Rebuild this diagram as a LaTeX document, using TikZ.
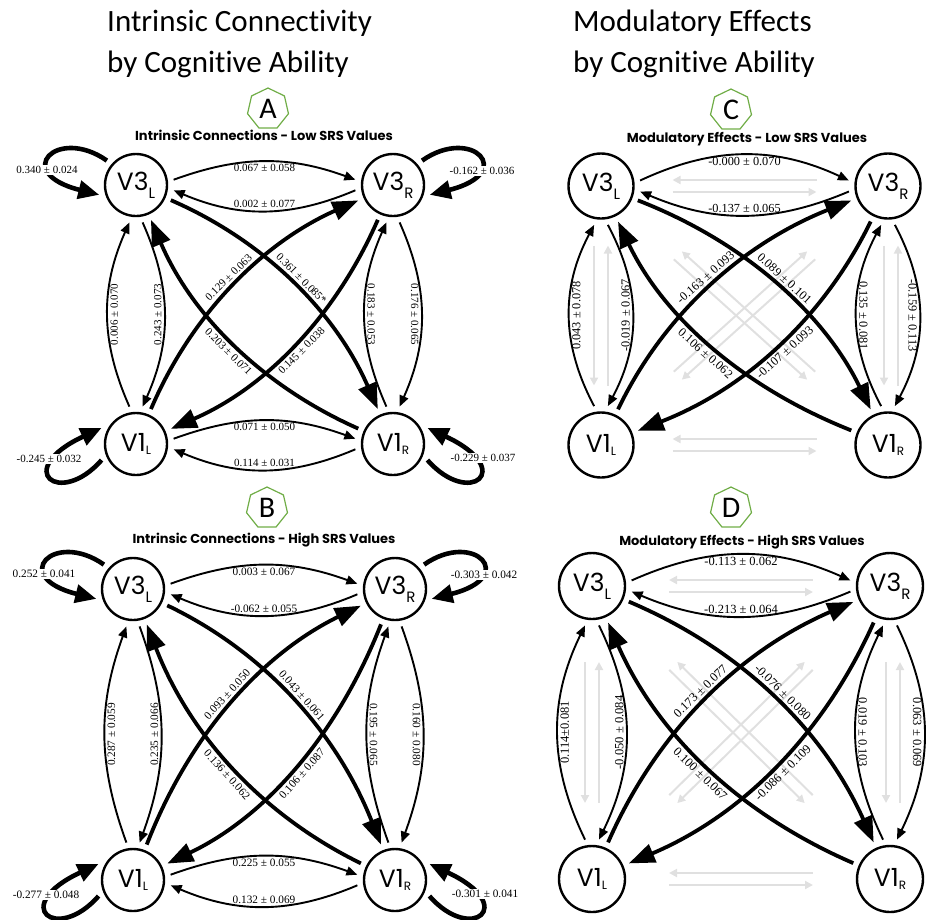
\documentclass[tikz,border=0pt]{standalone}
\usepackage{fontspec}
\setmainfont{Liberation Serif}
\newfontfamily\hdfont[Ligatures=NoCommon]{Carlito}
\newfontfamily\geofont{Poppins}
\usetikzlibrary{arrows.meta,shapes.geometric}
\definecolor{badgegreen}{HTML}{70AD47}
\definecolor{ghost}{HTML}{E0E0E0}
\newcommand\sbx[3]{\raisebox{#2}{\fontsize{#1}{#1}\selectfont #3}}
\tikzset{
 region/.style={circle, draw, line width=2.4pt, minimum size=#1, inner sep=0pt, outer sep=7pt, font=\geofont\fontsize{25}{25}\selectfont},
 region/.default=62pt,
 elab/.style={font=\fontsize{\LF}{\LF}\selectfont, inner sep=2pt},
 dlab/.style={font=\fontsize{\LF}{\LF}\selectfont, inner sep=3.5pt},
 looplab/.style={font=\fontsize{\LF}{\LF}\selectfont, fill=white, inner sep=1pt},
 thinarc/.style={line width=1.9pt, -{Triangle[length=11pt,width=9pt]}},
 diagarc/.style={line width=3.8pt, -{Triangle[length=26pt,width=19pt]}},
 selfloop/.style={line width=4.6pt, -{Triangle[length=21pt,width=18pt]}},
 grayarr/.style={line width=2pt, draw=ghost, -{Triangle[length=8pt,width=8pt]}},
 badge/.style={regular polygon, regular polygon sides=7, draw=badgegreen, line width=1.2pt, minimum size=42pt, inner sep=0pt, font=\hdfont\fontsize{30}{30}\selectfont},
 ptitle/.style={font=\geofont\bfseries\fontsize{13}{13}\selectfont, inner sep=0pt},
 header/.style={font=\hdfont\fontsize{31}{41}\selectfont, align=left, anchor=north west, inner sep=0pt}
}
\newcommand\netnodes[1]{%
 \node[region=\RS] (#1-V3L) at (\PX,\PY) {V3\sbx{15}{-8pt}{L}};
 \node[region=\RS] (#1-V3R) at ({\PX+\PW},\PY) {V3\sbx{15}{-8pt}{R}};
 \node[region=\RS] (#1-V1L) at (\PX,{\PY+\PH}) {V1\sbx{12}{-3pt}{L}};
 \node[region=\RS] (#1-V1R) at ({\PX+\PW},{\PY+\PH}) {V1\sbx{12}{-3pt}{R}};
}
\newcommand\netarcs[1]{%
 \draw[thinarc] (#1-V3L.8) to[bend left=\hbt] node[elab,anchor=north]{\lTop} (#1-V3R.172);
 \draw[thinarc] (#1-V3R.-172) to[bend left=\hbb] node[elab,anchor=south]{\lBot} (#1-V3L.-8);
 \draw[thinarc] (#1-V1L.100) to[bend left=\vb] node[elab,rotate=90,anchor=north]{\lLo} (#1-V3L.-100);
 \draw[thinarc] (#1-V3L.-80) to[bend left=\vb] node[elab,rotate=90,anchor=south]{\lLi} (#1-V1L.80);
 \draw[thinarc] (#1-V1R.100) to[bend left=\vb] node[elab,rotate=-90,anchor=south]{\lRi} (#1-V3R.-100);
 \draw[thinarc] (#1-V3R.-80) to[bend left=\vb] node[elab,rotate=-90,anchor=north]{\lRo} (#1-V1R.80);
 \coordinate (#1-a1) at ({\PX+0.51*\PW},{\PY+0.22*\PH});
 \coordinate (#1-a2) at ({\PX+0.78*\PW},{\PY+0.50*\PH});
 \coordinate (#1-b1) at ({\PX+0.50*\PW},{\PY+0.78*\PH});
 \coordinate (#1-b2) at ({\PX+0.22*\PW},{\PY+0.51*\PH});
 \coordinate (#1-c1) at ({\PX+0.22*\PW},{\PY+0.49*\PH});
 \coordinate (#1-c2) at ({\PX+0.50*\PW},{\PY+0.22*\PH});
 \coordinate (#1-d1) at ({\PX+0.78*\PW},{\PY+0.50*\PH});
 \coordinate (#1-d2) at ({\PX+0.51*\PW},{\PY+0.78*\PH});
 \draw[diagarc] (#1-V3L) .. controls (#1-a1) and (#1-a2) .. (#1-V1R) node[dlab,pos=0.5,sloped,anchor=south]{\lDb};
 \draw[diagarc] (#1-V1R) .. controls (#1-b1) and (#1-b2) .. (#1-V3L) node[dlab,pos=0.5,sloped,anchor=north]{\lDc};
 \draw[diagarc] (#1-V1L) .. controls (#1-c1) and (#1-c2) .. (#1-V3R) node[dlab,pos=0.5,sloped,anchor=south]{\lDa};
 \draw[diagarc] (#1-V3R) .. controls (#1-d1) and (#1-d2) .. (#1-V1L) node[dlab,pos=0.5,sloped,anchor=north]{\lDd};
}
\newcommand\netvone[1]{%
 \draw[thinarc] (#1-V1L.8) to[bend left=\hbt] node[elab,anchor=north]{\lVtop} (#1-V1R.172);
 \draw[thinarc] (#1-V1R.-172) to[bend left=\hbb] node[elab,anchor=south]{\lVbot} (#1-V1L.-8);
}
\newcommand\netloops[1]{%
 \draw[selfloop] (#1-V3L.140) .. controls +(-50,-35) and +(-88,-22) .. (#1-V3L.195);
 \draw[selfloop] (#1-V3R.40) .. controls +(50,-35) and +(88,-22) .. (#1-V3R.-15);
 \draw[selfloop] (#1-V1L.205) .. controls +(-42,48) and +(-90,42) .. (#1-V1L.155);
 \draw[selfloop] (#1-V1R.-25) .. controls +(42,48) and +(90,42) .. (#1-V1R.25);
 \node[looplab] (#1-s1) at ([shift={(-89,-15)}]#1-V3L) {\lSa};
 \node[looplab] (#1-s2) at ([shift={(89,-14)}]#1-V3R) {\lSb};
 \node[looplab] (#1-s3) at ([shift={(-87,15)}]#1-V1L) {\lSc};
 \node[looplab] (#1-s4) at ([shift={(90,14)}]#1-V1R) {\lSd};
}
\newcommand\netgray[1]{%
 \draw[grayarr, transform canvas={yshift=6pt}, shorten <=\gh, shorten >=\gh] (#1-V3R) -- (#1-V3L);
 \draw[grayarr, transform canvas={yshift=-6pt}, shorten <=\gh, shorten >=\gh] (#1-V3L) -- (#1-V3R);
 \draw[grayarr, transform canvas={yshift=6pt}, shorten <=\gh, shorten >=\gh] (#1-V1R) -- (#1-V1L);
 \draw[grayarr, transform canvas={yshift=-6pt}, shorten <=\gh, shorten >=\gh] (#1-V1L) -- (#1-V1R);
 \draw[grayarr, transform canvas={xshift=-7pt}, shorten <=\gv, shorten >=\gv] (#1-V3L) -- (#1-V1L);
 \draw[grayarr, transform canvas={xshift=7pt}, shorten <=\gv, shorten >=\gv] (#1-V1L) -- (#1-V3L);
 \draw[grayarr, transform canvas={xshift=-4pt}, shorten <=\gv, shorten >=\gv] (#1-V3R) -- (#1-V1R);
 \draw[grayarr, transform canvas={xshift=10pt}, shorten <=\gv, shorten >=\gv] (#1-V1R) -- (#1-V3R);
 \draw[grayarr, transform canvas={shift={(-4pt,-4pt)}}, shorten <=\gd, shorten >=\gd] (#1-V3L) -- (#1-V1R);
 \draw[grayarr, transform canvas={shift={(4pt,4pt)}}, shorten <=\gd, shorten >=\gd] (#1-V1R) -- (#1-V3L);
 \draw[grayarr, transform canvas={shift={(-4pt,4pt)}}, shorten <=\gd, shorten >=\gd] (#1-V1L) -- (#1-V3R);
 \draw[grayarr, transform canvas={shift={(4pt,-4pt)}}, shorten <=\gd, shorten >=\gd] (#1-V3R) -- (#1-V1L);
}
\begin{document}
\begin{tikzpicture}[x=1pt,y=-1pt]
\useasboundingbox (0,0) rectangle (926,919);
\node[header] (hl) at (107,10) {Intrinsic Connectivity\\by Cognitive Ability};
\node[header] (hr) at (573,10) {Modulatory Effects\\by Cognitive Ability};

% ---------- Panel A
\begin{scope}
\def\PX{136}\def\PY{185}\def\PW{257}\def\PH{259}
\def\LF{11}\def\RS{62pt}\def\hbt{20}\def\hbb{23}\def\vb{24}
\def\lTop{0.067 ± 0.058}\def\lBot{0.002 ± 0.077}
\def\lVtop{0.071 ± 0.050}\def\lVbot{0.114 ± 0.031}
\def\lLo{0.006 ± 0.070}\def\lLi{0.243 ± 0.073}\def\lRi{0.183 ± 0.053}\def\lRo{0.176 ± 0.065}
\def\lDa{0.129 ± 0.063}\def\lDb{0.361 ± 0.085*}\def\lDc{0.203 ± 0.071}\def\lDd{0.145 ± 0.038}
\def\lSa{0.340 ± 0.024}\def\lSb{-0.162 ± 0.036}\def\lSc{-0.245 ± 0.032}\def\lSd{-0.229 ± 0.037}
\node[badge] (A-badge) at (268,109) {A};
\node[ptitle] (A-title) at (264,135) {Intrinsic Connections - Low SRS Values};
\netnodes{A}\netarcs{A}\netvone{A}\netloops{A}
\end{scope}

% ---------- Panel B
\begin{scope}
\def\PX{133}\def\PY{589}\def\PW{262}\def\PH{291}
\def\LF{11.3}\def\RS{62pt}\def\hbt{20}\def\hbb{23}\def\vb{20}
\def\lTop{0.003 ± 0.067}\def\lBot{-0.062 ± 0.055}
\def\lVtop{0.225 ± 0.055}\def\lVbot{0.132 ± 0.069}
\def\lLo{0.287 ± 0.059}\def\lLi{0.235 ± 0.066}\def\lRi{0.195 ± 0.065}\def\lRo{0.160 ± 0.080}
\def\lDa{0.093 ± 0.050}\def\lDb{0.043 ± 0.061}\def\lDc{0.136 ± 0.062}\def\lDd{0.106 ± 0.087}
\def\lSa{0.252 ± 0.041}\def\lSb{-0.303 ± 0.042}\def\lSc{-0.277 ± 0.048}\def\lSd{-0.301 ± 0.041}
\node[badge] (B-badge) at (267,508) {B};
\node[ptitle] (B-title) at (264,540) {Intrinsic Connections - High SRS Values};
\netnodes{B}\netarcs{B}\netvone{B}\netloops{B}
\end{scope}

% ---------- Panel C
\begin{scope}
\def\PX{601}\def\PY{186}\def\PW{287}\def\PH{259}
\def\LF{12.3}\def\RS{65pt}\def\hbt{25}\def\hbb{23}\def\vb{28}
\def\gh{32pt}\def\gv{20pt}\def\gd{64pt}
\def\lTop{-0.000 ± 0.070}\def\lBot{-0.137 ± 0.065}
\def\lLo{0.043 ± 0.078}\def\lLi{-0.019 ± 0.067}\def\lRi{0.135 ± 0.081}\def\lRo{-0.159 ± 0.113}
\def\lDa{-0.163 ± 0.093}\def\lDb{0.089 ± 0.101}\def\lDc{0.106 ± 0.062}\def\lDd{-0.107 ± 0.093}
\node[badge] (C-badge) at (731,110) {C};
\node[ptitle] (C-title) at (747,139) {Modulatory Effects - Low SRS Values};
\netnodes{C}\netgray{C}\netarcs{C}
\end{scope}

% ---------- Panel D
\begin{scope}
\def\PX{592}\def\PY{586}\def\PW{298}\def\PH{293}
\def\LF{12.5}\def\RS{66pt}\def\hbt{24}\def\hbb{23}\def\vb{26}
\def\gh{37pt}\def\gv{36pt}\def\gd{74pt}
\def\lTop{-0.113 ± 0.062}\def\lBot{-0.213 ± 0.064}
\def\lLo{0.114±0.081}\def\lLi{-0.050 ± 0.084}\def\lRi{0.019 ± 0.103}\def\lRo{0.063 ± 0.069}
\def\lDa{0.173 ± 0.077}\def\lDb{-0.076 ± 0.080}\def\lDc{0.100 ± 0.067}\def\lDd{-0.086 ± 0.109}
\node[badge] (D-badge) at (731,508) {D};
\node[ptitle] (D-title) at (742,542) {Modulatory Effects - High SRS Values};
\netnodes{D}\netgray{D}\netarcs{D}
\end{scope}
\end{tikzpicture}
\end{document}
